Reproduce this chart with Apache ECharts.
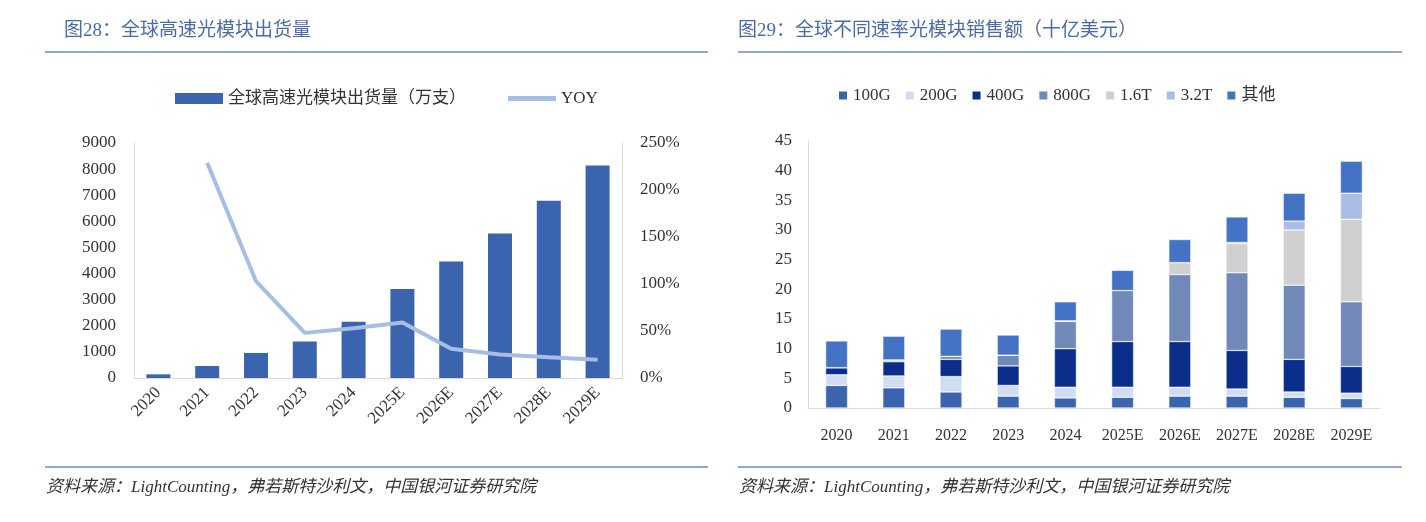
<!DOCTYPE html>
<html><head><meta charset="utf-8">
<script src="https://cdn.jsdelivr.net/npm/echarts@6/dist/echarts.min.js"></script>
<style>html,body{margin:0;padding:0;background:#fff}#c{width:1426px;height:522px}</style>
</head><body><div id="c"></div>
<script>
const catsL = ['2020','2021','2022','2023','2024','2025E','2026E','2027E','2028E','2029E'];
const shipments = [140,460,960,1400,2150,3410,4460,5530,6790,8140];
const yoy = [null,2.29,1.03,0.48,0.53,0.59,0.31,0.25,0.22,0.195];
const catsR = ['2020','2021','2022','2023','2024','2025E','2026E','2027E','2028E','2029E'];
const s100G = [3.8,3.4,2.7,2.0,1.7,1.8,2.0,2.0,1.8,1.6];
const s200G = [1.8,2.0,2.6,1.8,1.8,1.7,1.5,1.2,0.9,0.9];
const s400G = [1.2,2.4,2.9,3.3,6.5,7.7,7.7,6.5,5.5,4.5];
const s800G = [0,0.3,0.5,1.8,4.6,8.6,11.3,13.1,12.5,10.9];
const s16T = [0,0,0,0,0.1,0,2.0,4.9,9.3,13.9];
const s32T = [0,0,0,0,0,0,0,0.2,1.5,4.4];
const sOther = [4.5,4.0,4.6,3.4,3.2,3.4,3.9,4.3,4.7,5.4];
const rightNames = ['100G','200G','400G','800G','1.6T','3.2T','其他'];
const rightColors = ['#3B64AE','#D1DDF1','#0B2E8A','#7089B9','#D1D0D1','#A9BDE5','#4473C5'];

const FF = '"Liberation Serif","Noto Sans CJK SC",serif';
const chart = echarts.init(document.getElementById('c'));
const rightData = [s100G,s200G,s400G,s800G,s16T,s32T,sOther];
const titleColor = '#4A6BAA';
chart.setOption({
  animation:false,
  textStyle:{fontFamily:FF},
  graphic:[
    {type:'text',left:64,top:22,style:{text:'图28：全球高速光模块出货量',fontSize:19,fill:titleColor,fontFamily:FF}},
    {type:'text',left:738,top:22,style:{text:'图29：全球不同速率光模块销售额（十亿美元）',fontSize:19,fill:titleColor,fontFamily:FF}},
    {type:'line',shape:{x1:45,y1:52,x2:708,y2:52},style:{stroke:'#6E8BC4',lineWidth:1.5}},
    {type:'line',shape:{x1:738,y1:52,x2:1402,y2:52},style:{stroke:'#6E8BC4',lineWidth:1.5}},
    {type:'line',shape:{x1:45,y1:467,x2:708,y2:467},style:{stroke:'#6E8BC4',lineWidth:1.5}},
    {type:'line',shape:{x1:738,y1:467,x2:1402,y2:467},style:{stroke:'#6E8BC4',lineWidth:1.5}},
    {type:'text',left:46,top:479,style:{text:'资料来源：LightCounting，弗若斯特沙利文，中国银河证券研究院',fontSize:17,fontStyle:'italic',fill:'#333',fontFamily:FF}},
    {type:'text',left:739,top:479,style:{text:'资料来源：LightCounting，弗若斯特沙利文，中国银河证券研究院',fontSize:17,fontStyle:'italic',fill:'#333',fontFamily:FF}}
  ],
  legend:[
    {left:170,top:85,itemWidth:48,itemHeight:11,itemGap:42,textStyle:{fontSize:17,color:'#333',fontFamily:FF},
     data:[{name:'全球高速光模块出货量（万支）',icon:'rect'},{name:'YOY',icon:'path://M0,0H10V1H0Z',itemStyle:{color:'#A6BDE6'}}]},
    {left:832,top:82,itemWidth:10,itemHeight:10,itemGap:13,textStyle:{fontSize:17,color:'#333',fontFamily:FF},
     data:rightNames.map(n=>({name:n,icon:'rect'}))}
  ],
  grid:[
    {left:134,top:143,width:488,height:235},
    {left:808,top:141,width:572,height:267}
  ],
  xAxis:[
    {type:'category',gridIndex:0,data:catsL,axisTick:{show:false},axisLine:{lineStyle:{color:'#D9D9D9'}},
     axisLabel:{rotate:45,fontSize:17,color:'#333',margin:12,interval:0}},
    {type:'category',gridIndex:1,data:catsR,axisTick:{show:false},axisLine:{lineStyle:{color:'#D9D9D9'}},
     axisLabel:{fontSize:16,color:'#333',margin:20,interval:0,hideOverlap:false}}
  ],
  yAxis:[
    {type:'value',gridIndex:0,min:0,max:9000,interval:1000,splitLine:{show:false},axisLine:{show:true,lineStyle:{color:'#D9D9D9'}},
     axisLabel:{fontSize:17,color:'#333',margin:18,formatter:v=>String(v)}},
    {type:'value',gridIndex:0,min:0,max:2.5,interval:0.5,splitLine:{show:false},axisLine:{show:true,lineStyle:{color:'#D9D9D9'}},
     axisLabel:{fontSize:17,color:'#333',margin:18,formatter:v=>Math.round(v*100)+'%'}},
    {type:'value',gridIndex:1,min:0,max:45,interval:5,splitLine:{show:false},axisLine:{show:true,lineStyle:{color:'#D9D9D9'}},
     axisLabel:{fontSize:17,color:'#333',margin:16}}
  ],
  series:[
    {name:'全球高速光模块出货量（万支）',type:'bar',xAxisIndex:0,yAxisIndex:0,data:shipments,barWidth:24,itemStyle:{color:'#3B64AE'}},
    {name:'YOY',type:'line',xAxisIndex:0,yAxisIndex:1,data:yoy,symbol:'none',lineStyle:{width:4,color:'#A6BDE6'},itemStyle:{color:'#A6BDE6'}},
    ...rightNames.map((n,i)=>({name:n,type:'bar',stack:'r',xAxisIndex:1,yAxisIndex:2,data:rightData[i],barWidth:22,
      itemStyle:{color:rightColors[i],borderColor:'#fff',borderWidth:0.5}}))
  ]
});
</script></body></html>
